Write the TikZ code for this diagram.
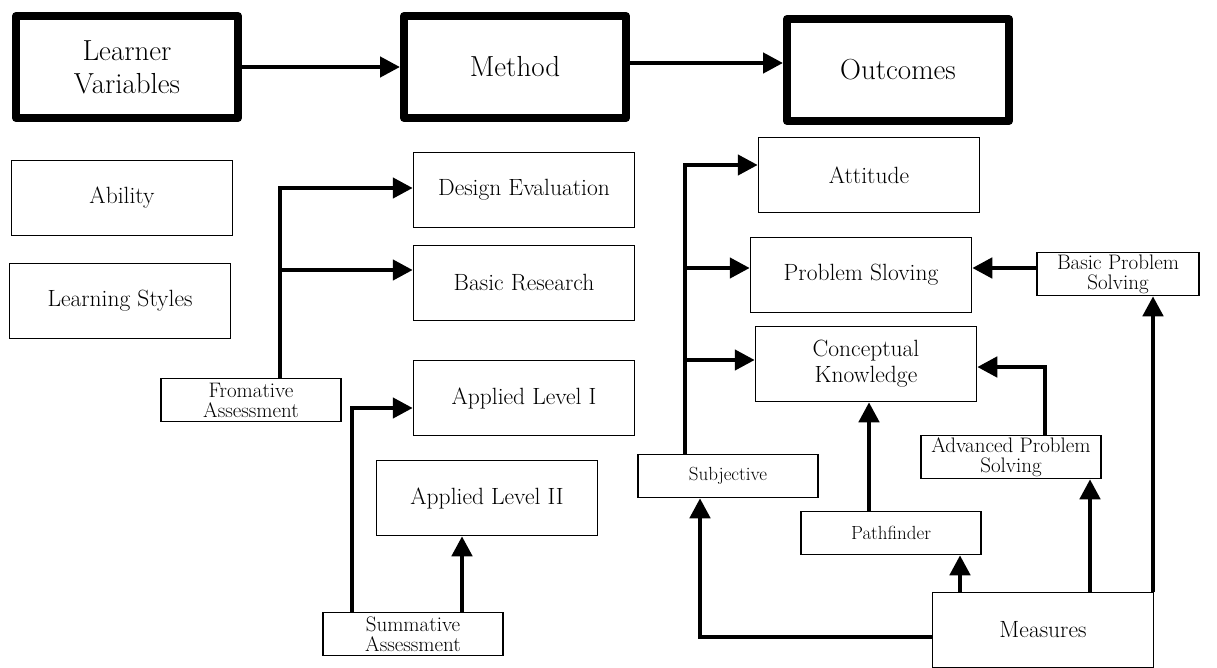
\documentclass[tikz,border=0pt]{standalone}
\usetikzlibrary{arrows.meta}
\begin{document}
\begin{tikzpicture}[x=1pt,y=-1pt,
	bigbox/.style={draw,line width=8pt,line join=round,minimum width=222pt,minimum height=102pt,align=center,font=\fontsize{29}{33}\selectfont},
	box/.style={draw,line width=1.5pt,minimum width=221pt,minimum height=75pt,align=center,font=\fontsize{23.5}{26}\selectfont},
	smallbox/.style={draw,line width=1.5pt,minimum width=180pt,minimum height=43pt,inner sep=0pt,align=center,font=\fontsize{21}{20}\selectfont},
	link/.style={line width=4.5pt,-{Triangle[length=20pt,width=20pt]}}]
	\useasboundingbox (0,0) rectangle (1217,668);
	\node[bigbox] (learner) at (127,67) {Learner\\Variables};
	\node[bigbox] (method) at (515,67) {Method};
	\node[bigbox] (outcomes) at (898,70) {Outcomes};
	\node[box] (ability) at (122,198) {Ability};
	\node[box] (styles) at (120,301) {Learning Styles};
	\node[box] (design) at (524,190) {Design Evaluation};
	\node[box] (research) at (524,283) {Basic Research};
	\node[box] (appone) at (524,398) {Applied Level I};
	\node[box] (apptwo) at (487,498) {Applied Level II};
	\node[smallbox] (fromative) at (251,400) {Fromative\\Assessment};
	\node[smallbox] (summative) at (413,634) {Summative\\Assessment};
	\node[box] (attitude) at (869,175) {Attitude};
	\node[box] (sloving) at (861,275) {Problem Sloving};
	\node[box] (concept) at (866,364) {Conceptual\\Knowledge};
	\node[smallbox,minimum width=162pt] (basicps) at (1118,274) {Basic Problem\\Solving};
	\node[smallbox] (advps) at (1011,457) {Advanced Problem\\Solving};
	\node[smallbox,font=\fontsize{19}{20}\selectfont] (subjective) at (728,476) {Subjective};
	\node[smallbox,font=\fontsize{19}{20}\selectfont] (pathfinder) at (891,533) {Pathfinder};
	\node[box] (measures) at (1043,630) {Measures};
	\draw[link] (learner.east) -- (method.west);
	\coordinate (mo) at (630,63);
	\draw[link] (mo -| method.east) -- (mo -| outcomes.west);
	\coordinate (fjoin) at (280,188);
	\coordinate (rjoin) at (280,270);
	\draw[link] (fromative.north -| fjoin) -- (fjoin) -- (fjoin -| design.west);
	\draw[link] (rjoin) -- (rjoin -| research.west);
	\coordinate (sjoin) at (352,408);
	\coordinate (stwo) at (462,0);
	\draw[link] (summative.north -| sjoin) -- (sjoin) -- (sjoin -| appone.west);
	\draw[link] (summative.north -| stwo) -- (apptwo.south -| stwo);
	\coordinate (ojoin) at (685,165);
	\coordinate (pjoin) at (685,268);
	\coordinate (cjoin) at (685,360);
	\draw[link] (subjective.north -| ojoin) -- (ojoin) -- (ojoin -| attitude.west);
	\draw[link] (pjoin) -- (pjoin -| sloving.west);
	\draw[link] (cjoin) -- (cjoin -| concept.west);
	\draw[link] (basicps.west |- pjoin) -- (sloving.east |- pjoin);
	\coordinate (mright) at (1153,0);
	\coordinate (madv) at (1090,0);
	\coordinate (mpf) at (960,0);
	\coordinate (pfx) at (869,0);
	\draw[link] (measures.north -| mright) -- (basicps.south -| mright);
	\draw[link] (measures.north -| madv) -- (advps.south -| madv);
	\coordinate (ajoin) at (1045,367);
	\draw[link] (advps.north -| ajoin) -- (ajoin) -- (ajoin -| concept.east);
	\draw[link] (pathfinder.north -| pfx) -- (concept.south -| pfx);
	\draw[link] (measures.north -| mpf) -- (pathfinder.south -| mpf);
	\coordinate (mjoin) at (700,637);
	\draw[link] (mjoin -| measures.west) -- (mjoin) -- (subjective.south -| mjoin);
\end{tikzpicture}
\end{document}
